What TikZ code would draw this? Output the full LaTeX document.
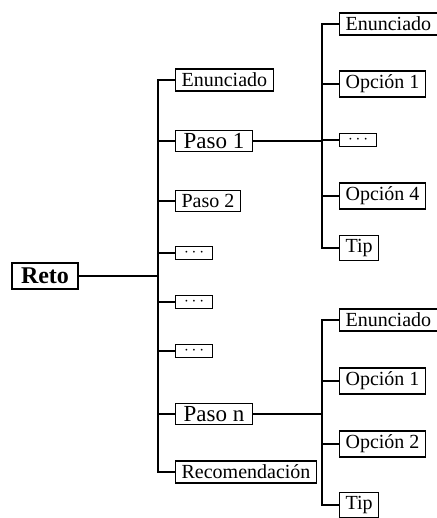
\documentclass[tikz,border=0pt]{standalone}
\usepackage{fontspec}
\setmainfont{Liberation Serif}
\begin{document}
\begin{tikzpicture}[x=1pt,y=-1pt,
  box/.style={draw,line width=1.2pt,inner xsep=6pt,inner ysep=4pt,anchor=west,font=\fontsize{20}{24}\selectfont},
  bigbox/.style={box,inner xsep=8pt,inner ysep=3pt,font=\fontsize{23}{27}\selectfont},
  rootbox/.style={draw,line width=1.2pt,inner xsep=9pt,inner ysep=5pt,font=\fontsize{24}{28}\selectfont\bfseries},
  dotbox/.style={draw,line width=1.2pt,anchor=west,minimum width=37pt,minimum height=13pt,inner sep=0pt,font=\fontsize{16}{18}\selectfont},
  conn/.style={line width=1.2pt}]
\useasboundingbox (0,0) rectangle (436,518);

% root
\node[rootbox] (reto) at (45,276) {Reto};

% level 1
\node[box] (e1) at (175,80) {Enunciado};
\node[bigbox] (p1) at (175,141) {Paso 1};
\node[box] (p2) at (175,201) {Paso 2};
\node[dotbox] (d1) at (175,253) {$\cdots$};
\node[dotbox] (d2) at (175,302) {$\cdots$};
\node[dotbox] (d3) at (175,351) {$\cdots$};
\node[bigbox] (pn) at (175,414) {Paso n};
\node[box] (rec) at (175,472) {Recomendación};

% group 1
\node[box] (ge) at (339,24) {Enunciado};
\node[box] (go1) at (339,84) {Opción 1};
\node[dotbox] (gd) at (339,140) {$\cdots$};
\node[box] (go4) at (339,196) {Opción 4};
\node[box] (gt) at (339,248) {Tip};

% group 2
\node[box] (he) at (339,320) {Enunciado};
\node[box] (ho1) at (339,381) {Opción 1};
\node[box] (ho2) at (339,444) {Opción 2};
\node[box] (ht) at (339,505) {Tip};

% trunks
\coordinate (tA) at (158,276);
\coordinate (tB) at (322,141);
\coordinate (tC) at (322,414);

\draw[conn] (reto.east) -- (tA);
\draw[conn] (e1.west) -| (tA) |- (rec.west);
\foreach \n in {p1,p2,d1,d2,d3,pn} \draw[conn] (\n.west) -- (\n.west -| tA);

\draw[conn] (p1.east) -- (tB);
\draw[conn] (ge.west) -| (tB) |- (gt.west);
\foreach \n in {go1,gd,go4} \draw[conn] (\n.west) -- (\n.west -| tB);

\draw[conn] (pn.east) -- (tC);
\draw[conn] (he.west) -| (tC) |- (ht.west);
\foreach \n in {ho1,ho2} \draw[conn] (\n.west) -- (\n.west -| tC);
\end{tikzpicture}
\end{document}
